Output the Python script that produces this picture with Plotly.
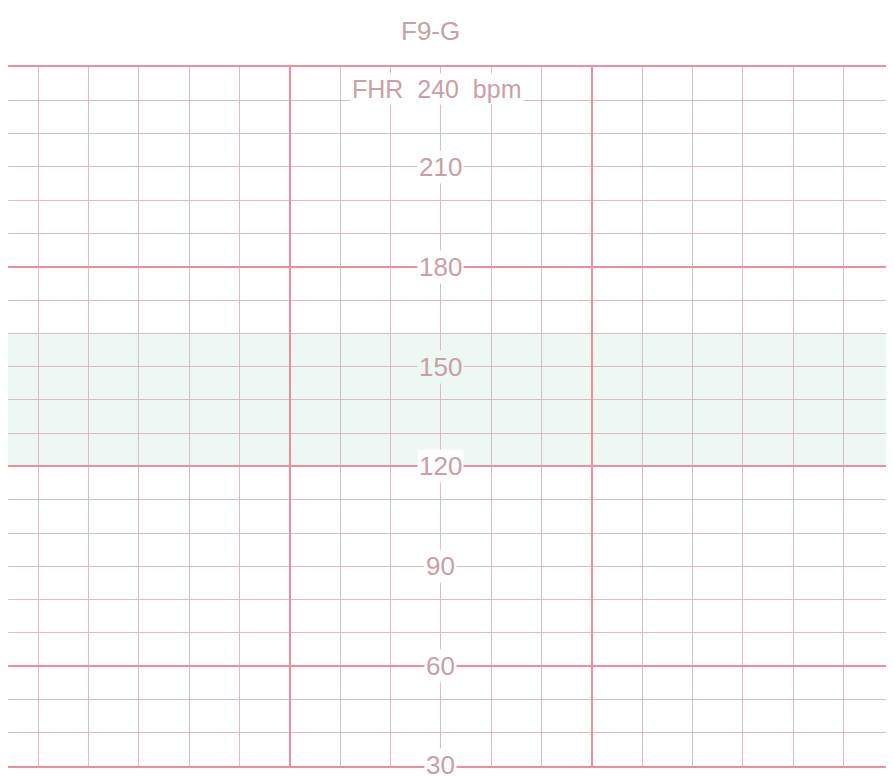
import plotly.graph_objects as go

# --- data -------------------------------------------------------------
title_text = "F9-G"
scale_caption = "FHR 240 bpm"
caption_bpm = 233.5
bpm_labels = [210, 180, 150, 120, 90, 60, 30]
label_time = 90          # seconds, column where the bpm labels sit
band_low, band_high = 120, 160   # normal FHR band (green tint)
time_range = [4, 180]    # seconds shown
bpm_range = [30, 240]
minor_time_step, major_time_step = 10, 60
minor_bpm_step, major_bpm_step = 10, 60

# --- style ------------------------------------------------------------
MAJOR = "#ef8e9a"
MINOR = "#dbbcc0"
TEXT = "#c9a0a5"
BAND = "#edf7f3"
FONT = "Liberation Sans, Arial, sans-serif"

fig = go.Figure()

# invisible trace to establish axes
fig.add_trace(go.Scatter(x=time_range, y=bpm_range, mode="markers",
                         marker=dict(opacity=0), hoverinfo="skip", showlegend=False))

fig.add_shape(type="rect", xref="x", yref="y", x0=time_range[0], x1=time_range[1],
              y0=band_low, y1=band_high, fillcolor=BAND, line_width=0, layer="below")

annotations = []
for v in bpm_labels:
    bg = BAND if band_low < v < band_high else "white"
    annotations.append(dict(x=label_time, y=v, xref="x", yref="y", text=str(v),
                            showarrow=False, bgcolor=bg, borderpad=1,
                            font=dict(family=FONT, size=26, color=TEXT),
                            yshift=(1 if v == bpm_range[0] else 0)))
annotations.append(dict(x=label_time - 0.8, y=caption_bpm, xref="x", yref="y",
                        text=scale_caption.replace(" ", "&nbsp;&nbsp;"), showarrow=False,
                        bgcolor="white", borderpad=1,
                        font=dict(family=FONT, size=25, color=TEXT)))
annotations.append(dict(x=label_time - 2, y=1, xref="x", yref="paper", yanchor="bottom",
                        yshift=19, text=title_text, showarrow=False,
                        font=dict(family=FONT, size=26, color=TEXT)))

fig.update_layout(
    width=886, height=768,
    margin=dict(l=0, r=0, t=59, b=10, autoexpand=False),
    paper_bgcolor="white", plot_bgcolor="white",
    showlegend=False,
    annotations=annotations,
    xaxis=dict(range=time_range, tick0=0, dtick=major_time_step,
               showgrid=True, gridcolor=MAJOR, gridwidth=1.6,
               minor=dict(dtick=minor_time_step, tick0=0, showgrid=True,
                          gridcolor=MINOR, gridwidth=1),
               showticklabels=False, ticks="", zeroline=False,
               showline=True, mirror=True, linecolor=MAJOR, linewidth=1.6),
    yaxis=dict(range=bpm_range, tick0=0, dtick=major_bpm_step,
               showgrid=True, gridcolor=MAJOR, gridwidth=1.6,
               minor=dict(dtick=minor_bpm_step, tick0=0, showgrid=True,
                          gridcolor=MINOR, gridwidth=1),
               showticklabels=False, ticks="", zeroline=False, showline=False),
)

fig.write_html("out.html")
